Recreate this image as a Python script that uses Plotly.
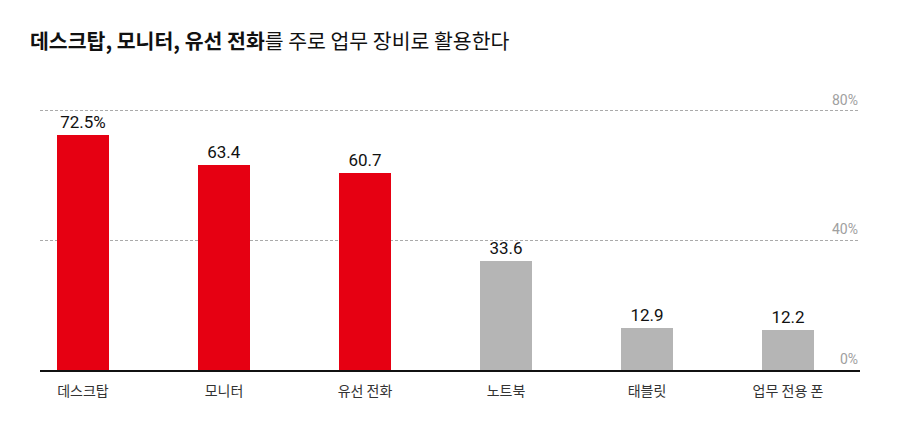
import plotly.graph_objects as go

# work equipment mainly used
categories = ["데스크탑", "모니터", "유선 전화", "노트북", "태블릿", "업무 전용 폰"]
values = [72.5, 63.4, 60.7, 33.6, 12.9, 12.2]
value_labels = ["72.5%", "63.4", "60.7", "33.6", "12.9", "12.2"]
highlight = [True, True, True, False, False, False]
tick_vals = [0, 40, 80]
tick_text = ["0%", "40%", "80%"]

RED = "#E60012"
GRAY = "#B5B5B5"
colors = [RED if h else GRAY for h in highlight]

fig = go.Figure()
fig.add_trace(go.Bar(
    x=list(range(len(categories))),
    y=values,
    width=0.37,
    marker=dict(color=colors, line=dict(width=0)),
    text=value_labels,
    textposition="outside",
    textfont=dict(family="Roboto, Noto Sans", size=17, color="#111111"),
    cliponaxis=False,
    hoverinfo="skip",
))

# y tick labels sit above their gridline, right aligned at the end of the plot
for v, t in zip(tick_vals, tick_text):
    fig.add_annotation(
        x=1, xref="paper", xanchor="right",
        y=v, yref="y", yanchor="bottom", yshift=1,
        text=t, showarrow=False,
        font=dict(family="Roboto, Noto Sans", size=14, color="#A0A0A0"),
    )

fig.update_layout(
    width=900, height=428,
    margin=dict(l=40, r=40, t=109, b=58),
    paper_bgcolor="white",
    plot_bgcolor="white",
    showlegend=False,
    bargap=0,
    title=dict(
        text="<b>데스크탑, 모니터, 유선 전화</b>를 주로 업무 장비로 활용한다",
        x=0, xref="paper", xanchor="left",
        y=1, yref="container", yanchor="top", pad=dict(t=35, l=-10),
        font=dict(family="Noto Sans CJK KR", size=20.5, color="#111111"),
    ),
    xaxis=dict(
        range=[-0.305, 5.511],
        tickvals=list(range(len(categories))),
        ticktext=categories,
        tickfont=dict(family="Noto Sans CJK KR", size=14, color="#333333"),
        ticks="",
        ticklabelstandoff=7,
        showgrid=False,
        zeroline=False,
        showline=True, linecolor="#111111", linewidth=1.5,
        fixedrange=True,
    ),
    yaxis=dict(
        range=[0, 80.6],
        tickvals=tick_vals,
        showticklabels=False,
        ticks="",
        showgrid=True, gridcolor="#AAAAAA", griddash="3px,2px", gridwidth=1,
        zeroline=False,
        showline=False,
        fixedrange=True,
    ),
)

# page body has a default 8px margin; drop it so the figure sits at the window corner
fig.write_html("out.html", config={"displayModeBar": False},
               post_script="document.body.style.margin='0';")
